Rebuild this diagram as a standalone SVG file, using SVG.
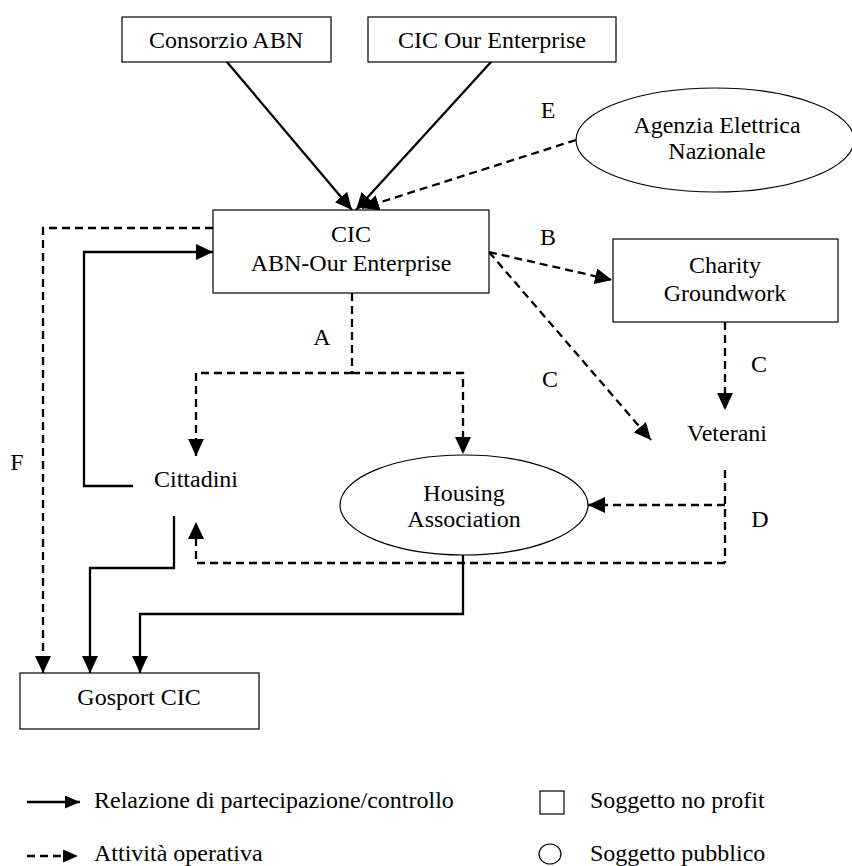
<svg xmlns="http://www.w3.org/2000/svg" width="852" height="866" viewBox="0 0 852 866" font-family="'Liberation Serif', 'Times New Roman', Times, serif">
<style>
  text { font-family: 'Liberation Serif', 'Times New Roman', Times, serif; font-size: 24px; fill: #000; }
  .c { text-anchor: middle; }
  .box { fill: #fff; stroke: #000; stroke-width: 1.2; }
  .solid { fill: none; stroke: #000; stroke-width: 2.3; }
  .dash { fill: none; stroke: #000; stroke-width: 2.3; stroke-dasharray: 8 5; }
</style>
<defs>
  <marker id="ah" markerUnits="userSpaceOnUse" markerWidth="17" markerHeight="16" refX="17" refY="8" orient="auto">
    <path d="M0,0 L17,8 L0,16 z" fill="#000"/>
  </marker>
  <marker id="ahs" markerUnits="userSpaceOnUse" markerWidth="15" markerHeight="13" refX="15" refY="6.5" orient="auto">
    <path d="M0,0 L15,6.5 L0,13 z" fill="#000"/>
  </marker>
</defs>
<rect width="852" height="866" fill="#fff"/>

<g id="connectors">
  <line class="solid" x1="227" y1="62" x2="352" y2="210" marker-end="url(#ah)"/>
  <line class="solid" x1="491" y1="62" x2="356" y2="210" marker-end="url(#ah)"/>
  <line class="dash" x1="576" y1="140" x2="362" y2="208" marker-end="url(#ah)"/>
  <polyline class="dash" points="213,228 43,228 43,673" marker-end="url(#ah)"/>
  <polyline class="solid" points="133,486 84,486 84,252 213,252" marker-end="url(#ah)"/>
  <line class="dash" x1="352" y1="293" x2="352" y2="373"/>
  <polyline class="dash" points="352,373 196,373 196,456" marker-end="url(#ah)"/>
  <polyline class="dash" points="352,373 463,373 463,454" marker-end="url(#ah)"/>
  <line class="dash" x1="489" y1="252" x2="612" y2="280" marker-end="url(#ah)"/>
  <line class="dash" x1="489" y1="252" x2="651" y2="440" marker-end="url(#ah)"/>
  <line class="dash" x1="725" y1="322" x2="725" y2="410" marker-end="url(#ah)"/>
  <line class="dash" x1="725" y1="470" x2="725" y2="563"/>
  <line class="dash" x1="725" y1="505" x2="588" y2="505" marker-end="url(#ah)"/>
  <polyline class="dash" points="725,563 196,563 196,522" marker-end="url(#ah)"/>
  <polyline class="solid" points="174,516 174,568 90,568 90,673" marker-end="url(#ah)"/>
  <polyline class="solid" points="463,555 463,614 140,614 140,673" marker-end="url(#ah)"/>
</g>

<g id="consorzio-abn">
  <rect class="box" x="122" y="17" width="209" height="45"/>
  <text class="c" x="226" y="48">Consorzio ABN</text>
</g>
<g id="cic-our-enterprise">
  <rect class="box" x="368" y="17" width="248" height="45"/>
  <text class="c" x="492" y="48">CIC Our Enterprise</text>
</g>
<g id="agenzia">
  <ellipse class="box" cx="715" cy="140" rx="139" ry="52"/>
  <text class="c" x="717" y="133">Agenzia Elettrica</text>
  <text class="c" x="717" y="159">Nazionale</text>
</g>
<g id="cic-abn-our">
  <rect class="box" x="213" y="210" width="276" height="83"/>
  <text class="c" x="351" y="242">CIC</text>
  <text class="c" x="351" y="271">ABN-Our Enterprise</text>
</g>
<g id="charity">
  <rect class="box" x="613" y="239" width="225" height="83"/>
  <text class="c" x="725" y="273">Charity</text>
  <text class="c" x="725" y="301">Groundwork</text>
</g>
<g id="veterani">
  <text class="c" x="727" y="441">Veterani</text>
</g>
<g id="cittadini">
  <text class="c" x="196" y="487">Cittadini</text>
</g>
<g id="housing">
  <ellipse class="box" cx="464" cy="505" rx="124" ry="50"/>
  <text class="c" x="464" y="501">Housing</text>
  <text class="c" x="464" y="527">Association</text>
</g>
<g id="gosport">
  <rect class="box" x="20" y="673" width="239" height="56"/>
  <text class="c" x="139" y="705">Gosport CIC</text>
</g>

<g id="labels">
  <text class="c" x="548" y="118">E</text>
  <text class="c" x="548" y="245">B</text>
  <text class="c" x="322" y="345">A</text>
  <text class="c" x="550" y="387">C</text>
  <text class="c" x="759" y="372">C</text>
  <text class="c" x="17" y="470">F</text>
  <text class="c" x="760" y="527">D</text>
</g>

<g id="legend">
  <line class="solid" x1="27" y1="802" x2="80" y2="802" marker-end="url(#ahs)"/>
  <text x="94" y="808">Relazione di partecipazione/controllo</text>
  <line class="dash" x1="27" y1="856" x2="78" y2="856" stroke-dasharray="8 7 8 100" marker-end="url(#ahs)"/>
  <text x="94" y="861">Attività operativa</text>
  <rect class="box" x="540" y="791" width="24" height="23"/>
  <text x="590" y="808">Soggetto no profit</text>
  <ellipse class="box" cx="550" cy="854" rx="11" ry="10"/>
  <text x="590" y="861">Soggetto pubblico</text>
</g>
</svg>
